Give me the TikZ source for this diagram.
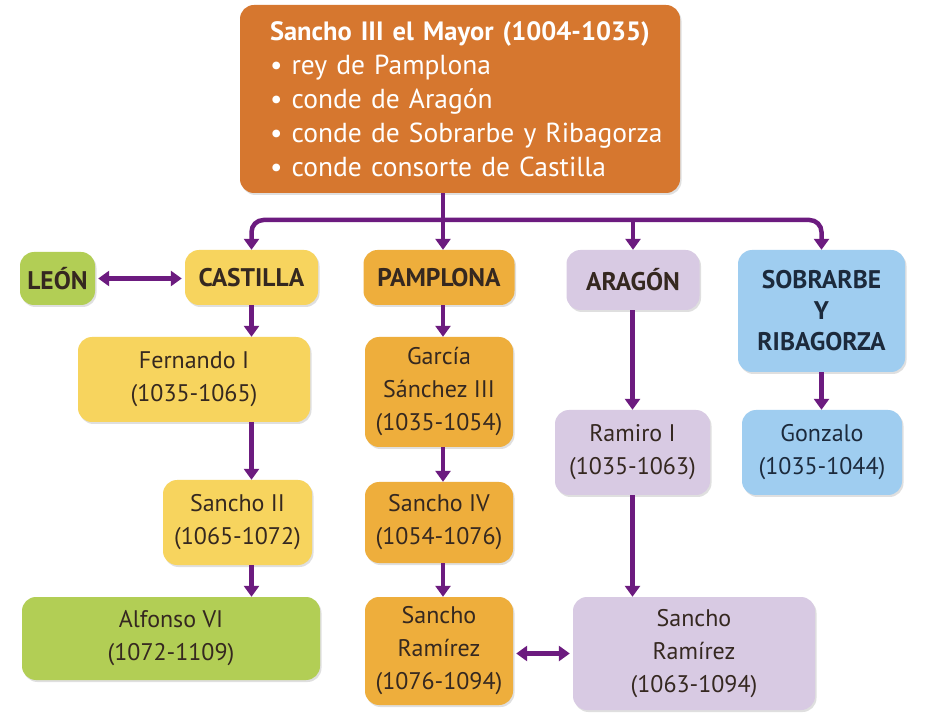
\documentclass[tikz,border=0pt]{standalone}
\usepackage{fontspec}
\setmainfont{PT Sans}
\usetikzlibrary{arrows.meta,shadows}
\definecolor{topor}{HTML}{D6772F}
\definecolor{yel}{HTML}{F7D45E}
\definecolor{ora}{HTML}{EEAE3C}
\definecolor{gre}{HTML}{B2CE55}
\definecolor{lav}{HTML}{D8CAE3}
\definecolor{blu}{HTML}{9FCDF0}
\definecolor{pur}{HTML}{6C1B7F}
\definecolor{txt}{HTML}{352820}
\definecolor{navy}{HTML}{1C2A3C}
\tikzset{
  box/.style={rounded corners=14pt, align=center, inner sep=2pt, text=txt,
    font=\fontsize{24}{33}\selectfont,
    drop shadow={opacity=0.25, shadow xshift=1.5pt, shadow yshift=-2pt}},
  head/.style={box, font=\fontsize{25.5}{31}\selectfont\bfseries},
  conn/.style={draw=pur, line width=4.5pt, -{Triangle[width=15pt,length=11pt]}},
  dconn/.style={draw=pur, line width=4.5pt, {Triangle[width=15pt,length=11pt]}-{Triangle[width=15pt,length=11pt]}, shorten >=3pt, shorten <=3pt}
}
\begin{document}
\begin{tikzpicture}[x=1pt,y=-1pt]
\useasboundingbox (0,0) rectangle (930,719);
\fill[white] (0,0) rectangle (930,719);
% top box
\node[box, fill=topor, text=white, minimum width=440pt, minimum height=188pt, text width=410pt, align=left,
  font=\fontsize{27.5}{34}\selectfont] (top) at (460,99)
  {\hspace*{15pt}{\fontsize{26.5}{34}\selectfont\bfseries Sancho III el Mayor (1004-1035)}\\
   \hspace*{15pt}• rey de Pamplona\\
   \hspace*{15pt}• conde de Aragón\\
   \hspace*{15pt}• conde de Sobrarbe y Ribagorza\\
   \hspace*{15pt}• conde consorte de Castilla};
% row 1
\node[head, fill=gre, minimum width=75pt, minimum height=53pt] (leon) at (57.5,278.5) {LEÓN};
\node[head, fill=yel, minimum width=133pt, minimum height=55pt] (castilla) at (251.5,277.5) {CASTILLA};
\node[head, fill=ora, minimum width=151pt, minimum height=55pt] (pamplona) at (439,277.5) {PAMPLONA};
\node[head, fill=lav, minimum width=133pt, minimum height=60pt] (aragon) at (633,280) {ARAGÓN};
\node[head, fill=blu, text=navy, minimum width=167pt, minimum height=122pt] (sobrarbe) at (821.5,311) {SOBRARBE\\Y\\RIBAGORZA};
% row 2
\node[box, fill=yel, minimum width=232pt, minimum height=85pt] (fernando) at (194,379.5) {Fernando I\\(1035-1065)};
\node[box, fill=ora, minimum width=148pt, minimum height=110pt] (garcia) at (439,392) {García\\Sánchez III\\(1035-1054)};
\node[box, fill=lav, minimum width=155pt, minimum height=85pt] (ramiro) at (632.5,452.5) {Ramiro I\\(1035-1063)};
\node[box, fill=blu, text=navy, minimum width=160pt, minimum height=85pt] (gonzalo) at (822,452.5) {Gonzalo\\(1035-1044)};
% row 3
\node[box, fill=yel, minimum width=149pt, minimum height=85pt] (sanchoII) at (237.5,522.5) {Sancho II\\(1065-1072)};
\node[box, fill=ora, minimum width=148pt, minimum height=81pt] (sanchoIV) at (439,522.5) {Sancho IV\\(1054-1076)};
% row 4
\node[box, fill=gre, minimum width=298pt, minimum height=83pt] (alfonso) at (171,638.5) {Alfonso VI\\(1072-1109)};
\node[box, fill=ora, minimum width=148pt, minimum height=108pt] (srp) at (439,651) {Sancho\\Ramírez\\(1076-1094)};
\node[box, fill=lav, minimum width=242pt, minimum height=113pt] (sra) at (694,653.5) {Sancho\\Ramírez\\(1063-1094)};
% connectors from top
\coordinate (bus) at (443,220);
\draw[conn] (top.south -| bus) -- (bus |- pamplona.north);
\draw[conn, rounded corners=12pt] (bus) -| (castilla.north);
\draw[conn, rounded corners=12pt] (bus) -| (sobrarbe.north);
\draw[conn] (bus -| aragon.north) -- (aragon.north);
% castilla chain
\draw[conn] (castilla.south) -- (castilla.south |- fernando.north);
\draw[conn] (fernando.south -| castilla.south) -- (sanchoII.north -| castilla.south);
\draw[conn] (sanchoII.south -| castilla.south) -- (alfonso.north -| castilla.south);
% pamplona chain
\draw[conn] (pamplona.south -| bus) -- (garcia.north -| bus);
\draw[conn] (garcia.south -| bus) -- (sanchoIV.north -| bus);
\draw[conn] (sanchoIV.south -| bus) -- (srp.north -| bus);
% aragon chain
\draw[conn] (aragon.south -| ramiro.north) -- (ramiro.north);
\draw[conn] (ramiro.south) -- (ramiro.south |- sra.north);
% sobrarbe
\draw[conn] (sobrarbe.south) -- (sobrarbe.south |- gonzalo.north);
% double arrows
\draw[dconn] (leon.east) -- (leon.east -| castilla.west);
\draw[dconn] (srp.east |- sra.west) -- (sra.west);
\end{tikzpicture}
\end{document}
